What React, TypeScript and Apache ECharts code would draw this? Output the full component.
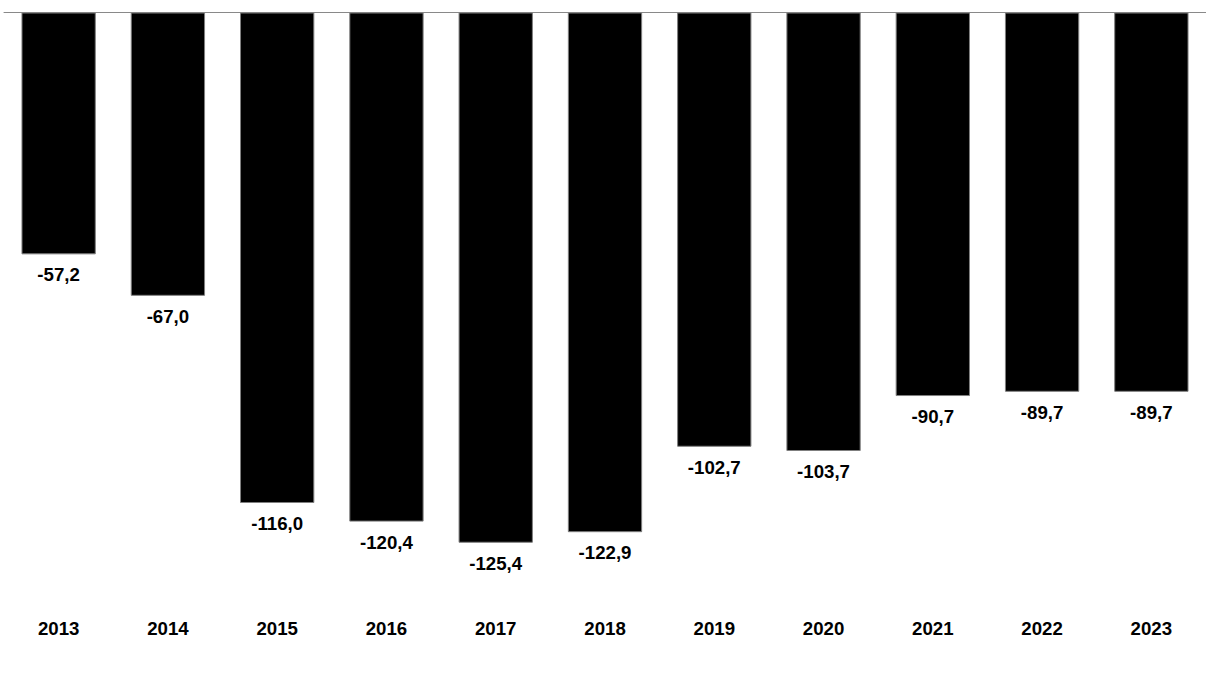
import React, { useEffect, useRef } from "react";
import * as echarts from "echarts";

const years: string[] = ["2013", "2014", "2015", "2016", "2017", "2018", "2019", "2020", "2021", "2022", "2023"];
const values: number[] = [-57.2, -67.0, -116.0, -120.4, -125.4, -122.9, -102.7, -103.7, -90.7, -89.7, -89.7];

const FONT = "Arial, 'Liberation Sans', sans-serif";

export default function App() {
  const ref = useRef<HTMLDivElement>(null);
  useEffect(() => {
    if (!ref.current) return;
    const chart = echarts.init(ref.current, null, { renderer: "svg" });
    chart.setOption({
      animation: false,
      backgroundColor: "#ffffff",
      grid: { left: 4, width: 1208, top: 12.5, height: 592 },
      xAxis: [
        {
          type: "category",
          data: years,
          position: "top",
          axisLine: { show: true, onZero: false, lineStyle: { color: "#898989", width: 1 } },
          axisTick: { show: false },
          axisLabel: { show: false },
          splitLine: { show: false },
        },
        {
          type: "category",
          data: years,
          position: "bottom",
          axisLine: { show: false, onZero: false },
          axisTick: { show: false },
          axisLabel: {
            show: true,
            margin: 14,
            color: "#000000",
            fontFamily: FONT,
            fontWeight: "bold",
            fontSize: 18.67,
          },
          splitLine: { show: false },
        },
      ],
      yAxis: {
        type: "value",
        min: -140,
        max: 0,
        show: false,
        splitLine: { show: false },
      },
      series: [
        {
          type: "bar",
          xAxisIndex: 0,
          data: values,
          barWidth: "68%",
          itemStyle: { color: "#000000", borderColor: "#7f7f7f", borderWidth: 1 },
          label: {
            show: true,
            position: "bottom",
            distance: 11,
            color: "#000000",
            fontFamily: FONT,
            fontWeight: "bold",
            fontSize: 18.67,
            formatter: (p: any) => Number(p.value).toFixed(1).replace(".", ","),
          },
        },
      ],
    });
    return () => chart.dispose();
  }, []);
  return (
    <div
      ref={ref}
      style={{ position: "absolute", left: 0, top: 0, width: 1206, height: 680, background: "#ffffff" }}
    />
  );
}
